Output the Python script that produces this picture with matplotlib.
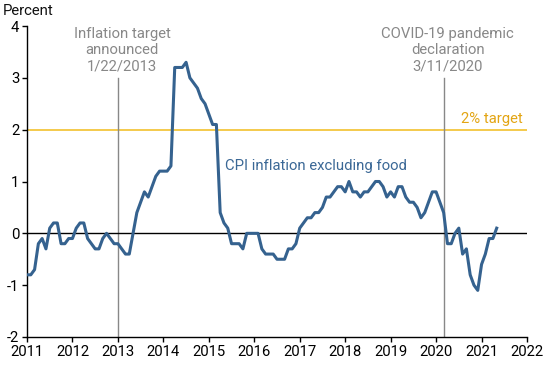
import numpy as np
import matplotlib.pyplot as plt
from matplotlib.transforms import offset_copy

plt.rcParams['font.family'] = ['Roboto', 'DejaVu Sans']

# monthly year-over-year inflation, Jan 2011 .. May 2021
start_year = 2011
cpi_ex_food = [
    # 2011
    -0.8, -0.8, -0.7, -0.2, -0.1, -0.3, 0.1, 0.2, 0.2, -0.2, -0.2, -0.1,
    # 2012
    -0.1, 0.1, 0.2, 0.2, -0.1, -0.2, -0.3, -0.3, -0.1, 0.0, -0.1, -0.2,
    # 2013
    -0.2, -0.3, -0.4, -0.4, 0.0, 0.4, 0.6, 0.8, 0.7, 0.9, 1.1, 1.2,
    # 2014
    1.2, 1.2, 1.3, 3.2, 3.2, 3.2, 3.3, 3.0, 2.9, 2.8, 2.6, 2.5,
    # 2015
    2.3, 2.1, 2.1, 0.4, 0.2, 0.1, -0.2, -0.2, -0.2, -0.3, 0.0, 0.0,
    # 2016
    0.0, 0.0, -0.3, -0.4, -0.4, -0.4, -0.5, -0.5, -0.5, -0.3, -0.3, -0.2,
    # 2017
    0.1, 0.2, 0.3, 0.3, 0.4, 0.4, 0.5, 0.7, 0.7, 0.8, 0.9, 0.9,
    # 2018
    0.8, 1.0, 0.8, 0.8, 0.7, 0.8, 0.8, 0.9, 1.0, 1.0, 0.9, 0.7,
    # 2019
    0.8, 0.7, 0.9, 0.9, 0.7, 0.6, 0.6, 0.5, 0.3, 0.4, 0.6, 0.8,
    # 2020
    0.8, 0.6, 0.4, -0.2, -0.2, 0.0, 0.1, -0.4, -0.3, -0.8, -1.0, -1.1,
    # 2021
    -0.6, -0.4, -0.1, -0.1, 0.1,
]
target = 2.0

# events (year, month index 0-11)
events = [
    (2013, 0, 'Inflation target\nannounced\n1/22/2013'),
    (2020, 2, 'COVID-19 pandemic\ndeclaration\n3/11/2020'),
]

year_ticks = list(range(2011, 2023))
y_ticks = [-2, -1, 0, 1, 2, 3, 4]

line_color = '#35628f'
gold_line = '#f2c12e'
gold_text = '#e3a514'
gray = '#888888'
fs = 10.7

x = start_year + np.arange(len(cpi_ex_food)) / 12.0

fig = plt.figure(figsize=(5.5, 3.65), dpi=100)
ax = fig.add_axes([27 / 550, 28 / 365, 500 / 550, 311 / 365])

ax.set_xlim(2011, 2022)
ax.set_ylim(-2, 4)

# reference lines
ax.axhline(0, color='black', linewidth=1.0, zorder=2)
ax.axhline(target, color=gold_line, linewidth=1.2, zorder=1)
ax.text(2021.9, target + 0.08, '2% target', color=gold_text, fontsize=fs,
        ha='right', va='bottom')

for yr, mo, label in events:
    xe = yr + mo / 12.0
    ax.plot([xe, xe], [-2, 3.0], color=gray, linewidth=1.0, zorder=1)
    ax.text(xe + 0.09, 3.54, label, color=gray, fontsize=fs, ha='center',
            va='center', linespacing=1.2, multialignment='center')

ax.plot(x, cpi_ex_food, color=line_color, linewidth=2.2, zorder=3,
        solid_joinstyle='round')
ax.text(2015.36, 1.29, 'CPI inflation excluding food', color='#3b6896',
        fontsize=fs, ha='left', va='center')

pct_tr = offset_copy(ax.transAxes, fig=fig, x=0, y=6, units='points')
ax.text(-24 / 500, 1.0, 'Percent', transform=pct_tr, fontsize=fs,
        ha='left', va='bottom', color='#111111')

ax.set_xticks(year_ticks)
ax.set_xticklabels([str(y) for y in year_ticks])
ax.set_yticks(y_ticks)
ax.set_yticklabels([str(v) for v in y_ticks])
ax.tick_params(axis='both', labelsize=fs, length=3.5, width=1.0,
               colors='black', direction='out')
ax.tick_params(axis='x', pad=2.5)
ax.tick_params(axis='y', pad=2)

for side in ['top', 'right']:
    ax.spines[side].set_visible(False)
for side in ['left', 'bottom']:
    ax.spines[side].set_linewidth(1.0)
    ax.spines[side].set_color('black')

fig.savefig('out.png', dpi=100)
